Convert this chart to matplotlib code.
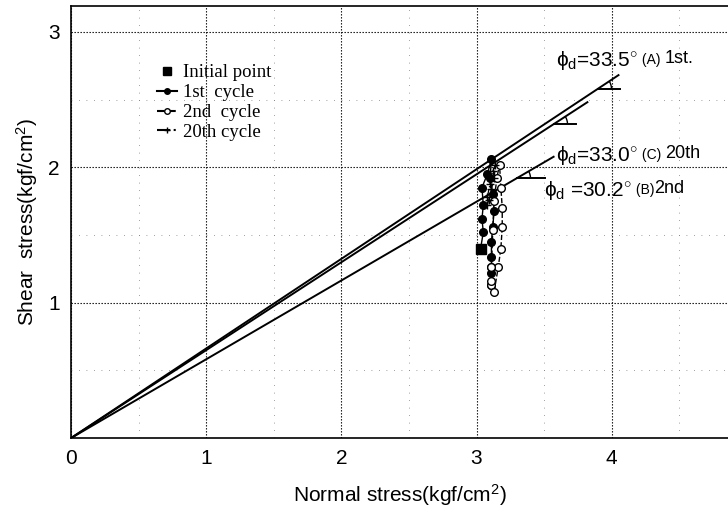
import numpy as np
import matplotlib
matplotlib.use("Agg")
import matplotlib.pyplot as plt
from matplotlib.patches import Arc
from matplotlib.lines import Line2D

# measured loops (normal stress, shear stress)
init_x = [3.03]
init_y = [1.40]

first_x = [3.03, 3.05, 3.04, 3.05, 3.04, 3.08, 3.11, 3.10, 3.12, 3.13, 3.12, 3.11, 3.11, 3.11, 3.11]
first_y = [1.40, 1.52, 1.62, 1.72, 1.85, 1.95, 2.06, 1.92, 1.80, 1.68, 1.56, 1.45, 1.34, 1.22, 1.13]

second_x = [3.11, 3.11, 3.12, 3.13, 3.15, 3.17, 3.18, 3.19, 3.19, 3.18, 3.16, 3.13, 3.11, 3.11]
second_y = [1.13, 1.26, 1.54, 1.75, 1.92, 2.02, 1.85, 1.70, 1.56, 1.40, 1.26, 1.08, 1.16, 1.26]

twentieth_x = [3.08, 3.10, 3.12, 3.14, 3.13, 3.11, 3.09, 3.08]
twentieth_y = [1.78, 1.88, 1.97, 2.02, 1.92, 1.84, 1.76, 1.72]

# failure envelopes: angle, end of line, label
angles = [33.5, 33.0, 30.2]
line_end_x = [4.05, 3.82, 3.57]
mark_y = [2.58, 2.32, 1.92]
mark_len = [0.16, 0.16, 0.21]
labels = [r"$\phi_\mathrm{d}$=33.5$^{\circ}$", r"$\phi_\mathrm{d}$=33.0$^{\circ}$", r"$\phi_\mathrm{d}$ =30.2$^{\circ}$"]
label_tags = [" (A) ", " (C) ", " (B)"]
label_tails = ["1st.", "20th", "2nd"]
label_pos = [(3.59, 2.79), (3.59, 2.09), (3.50, 1.83)]

plt.rcParams["mathtext.fontset"] = "custom"
plt.rcParams["mathtext.rm"] = "Liberation Sans"
plt.rcParams["mathtext.it"] = "Liberation Sans"
plt.rcParams["font.family"] = "Liberation Sans"

fig = plt.figure(figsize=(7.28, 5.13), dpi=100)
ax = fig.add_axes([0.0975, 0.146, 0.9025, 0.842])
ax.set_xlim(0, 4.86)
ax.set_ylim(0, 3.19)

for a, xe, my, ml in zip(angles, line_end_x, mark_y, mark_len):
    k = np.tan(np.radians(a))
    ax.plot([0, xe], [0, k * xe], color="black", lw=1.4, zorder=3)
    xv = my / k
    ax.plot([xv, xv + ml], [my, my], color="black", lw=1.4, zorder=3)
    ax.add_patch(Arc((xv, my), 0.2, 0.2, theta1=0, theta2=a, color="black", lw=1.0))

ax.plot(first_x, first_y, "-o", color="black", ms=5.5, lw=1.0, zorder=4)
ax.plot(second_x, second_y, "--o", color="black", mfc="white", ms=5.5, lw=1.0, zorder=4)
ax.plot(twentieth_x, twentieth_y, "-.+", color="black", ms=6, lw=0.9, zorder=5)
ax.plot(init_x, init_y, "s", color="black", ms=7.5, zorder=6)

for lab, tag, tail, (tx, ty) in zip(labels, label_tags, label_tails, label_pos):
    t = ax.annotate(lab, (tx, ty), fontsize=15, va="center", ha="left")
    t2 = ax.annotate(tag, xycoords=t, xy=(1, 0.22), fontsize=10, va="bottom")
    ax.annotate(tail, xycoords=t2, xy=(1, 0), fontsize=13, va="bottom")

handles = [
    Line2D([], [], marker="s", color="black", ls="none", ms=6),
    Line2D([], [], marker="o", color="black", ls="-", ms=4),
    Line2D([], [], marker="o", color="black", mfc="white", ls="--", ms=4),
    Line2D([], [], marker="+", color="black", ls="-.", ms=5),
]
ax.legend(handles, ["Initial point", "1st  cycle", "2nd  cycle", "20th cycle"],
          loc="upper left", bbox_to_anchor=(0.105, 0.905), frameon=False,
          handlelength=1.1, handletextpad=0.3, labelspacing=0.15,
          prop={"family": "Liberation Serif", "size": 13.5})

ax.set_xticks([0, 1, 2, 3, 4])
ax.set_yticks([1, 2, 3])
ax.set_xticks([0.5, 1.5, 2.5, 3.5, 4.5], minor=True)
ax.set_yticks([0.5, 1.5, 2.5], minor=True)
ax.grid(True, which="major", color="black", ls=(0, (1.2, 1.5)), lw=0.8)
ax.grid(True, which="minor", color="gray", ls=(0, (1, 8)), lw=0.6)
ax.tick_params(which="both", length=0, labelsize=15, pad=8)
ax.spines["right"].set_visible(False)
for s in ["left", "bottom", "top"]:
    ax.spines[s].set_linewidth(1.2)

ax.set_xlabel("Normal stress(kgf/cm$^2$)", fontsize=15, labelpad=10)
ax.set_ylabel("Shear  stress(kgf/cm$^2$)", fontsize=15, labelpad=6)

fig.savefig("out.png", dpi=100)
